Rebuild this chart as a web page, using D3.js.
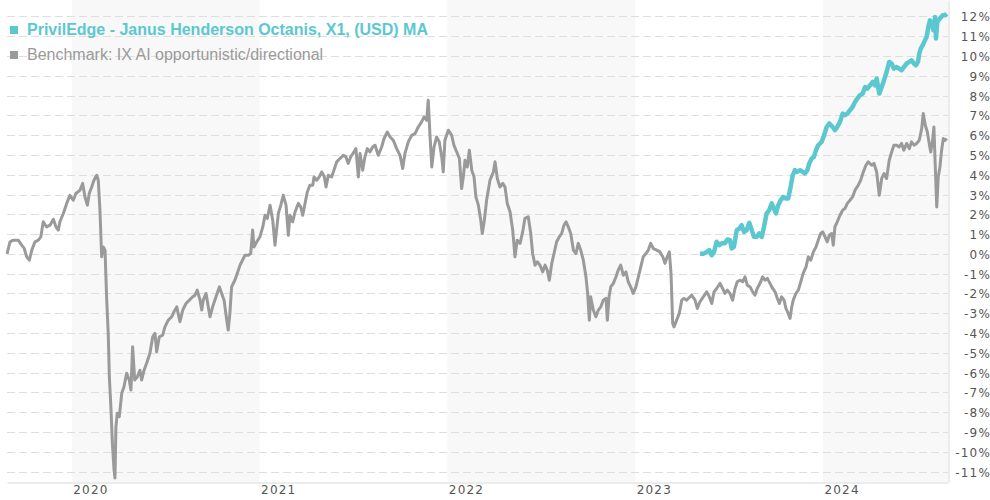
<!DOCTYPE html>
<html>
<head>
<meta charset="utf-8">
<script src="https://cdn.jsdelivr.net/npm/d3@7"></script>
<style>
  html, body { margin: 0; padding: 0; background: #fff; }
  svg { display: block; }
</style>
</head>
<body>
<svg id="chart" width="990" height="500"></svg>
<script>
// ---------- DATA (x = decimal year, y = cumulative return in %) ----------
const seriesNames = [
  "PrivilEdge - Janus Henderson Octanis, X1, (USD) MA",
  "Benchmark: IX AI opportunistic/directional"
];
const yearTicks = [2020, 2021, 2022, 2023, 2024];
const shadedYears = [2020, 2022, 2024];
const yTicks = [12,11,10,9,8,7,6,5,4,3,2,1,0,-1,-2,-3,-4,-5,-6,-7,-8,-9,-10,-11];

const benchmark = [
  [2019.655,0.00],[2019.671,0.61],[2019.689,0.69],[2019.715,0.69],[2019.733,0.44],[2019.746,0.29],
  [2019.760,-0.15],[2019.774,-0.32],[2019.787,0.19],[2019.804,0.61],[2019.822,0.69],[2019.835,0.86],
  [2019.848,1.62],[2019.866,1.36],[2019.884,1.45],[2019.902,1.75],[2019.916,1.36],[2019.928,1.20],
  [2019.937,1.62],[2019.955,2.04],[2019.973,2.55],[2019.990,2.96],[2020.008,2.71],[2020.022,3.05],
  [2020.044,3.22],[2020.058,3.56],[2020.070,2.88],[2020.083,2.46],[2020.093,3.05],[2020.106,3.38],
  [2020.118,3.72],[2020.133,3.97],[2020.141,3.72],[2020.150,2.21],[2020.159,-0.15],[2020.168,0.35],
  [2020.177,0.19],[2020.186,-2.34],[2020.194,-4.00],[2020.200,-6.21],[2020.209,-7.89],[2020.216,-9.56],
  [2020.225,-10.92],[2020.230,-11.33],[2020.235,-8.74],[2020.242,-8.06],[2020.253,-8.23],[2020.266,-7.05],
  [2020.278,-6.72],[2020.292,-6.03],[2020.306,-6.38],[2020.315,-6.88],[2020.324,-4.70],[2020.335,-6.38],
  [2020.349,-6.21],[2020.363,-5.88],[2020.372,-6.38],[2020.385,-5.88],[2020.399,-5.52],[2020.416,-5.03],
  [2020.431,-4.19],[2020.443,-4.02],[2020.452,-4.95],[2020.466,-4.19],[2020.484,-4.11],[2020.496,-3.69],
  [2020.514,-3.35],[2020.532,-3.18],[2020.544,-2.93],[2020.559,-2.68],[2020.576,-3.43],[2020.591,-2.84],
  [2020.608,-2.51],[2020.626,-2.34],[2020.644,-2.17],[2020.656,-2.09],[2020.668,-1.83],[2020.683,-2.34],
  [2020.692,-2.84],[2020.700,-2.34],[2020.715,-2.00],[2020.727,-2.68],[2020.736,-3.18],[2020.750,-2.68],
  [2020.768,-2.17],[2020.786,-1.67],[2020.798,-2.00],[2020.811,-2.34],[2020.825,-3.35],[2020.833,-3.85],
  [2020.842,-3.01],[2020.851,-1.67],[2020.869,-1.32],[2020.881,-0.99],[2020.896,-0.57],[2020.905,-0.40],
  [2020.922,-0.07],[2020.940,-0.07],[2020.953,0.02],[2020.963,1.20],[2020.970,0.35],[2020.985,0.61],
  [2021.002,0.86],[2021.017,1.36],[2021.029,1.95],[2021.041,1.79],[2021.056,2.46],[2021.070,1.70],
  [2021.082,0.44],[2021.100,2.04],[2021.113,2.46],[2021.126,2.96],[2021.141,2.46],[2021.153,0.94],
  [2021.162,1.95],[2021.176,1.62],[2021.189,2.12],[2021.206,2.55],[2021.219,2.37],[2021.230,1.95],
  [2021.242,2.55],[2021.254,3.13],[2021.268,3.47],[2021.283,3.47],[2021.290,3.89],[2021.304,3.72],
  [2021.318,3.89],[2021.331,4.14],[2021.345,3.89],[2021.354,3.38],[2021.366,3.97],[2021.384,3.89],
  [2021.396,4.23],[2021.411,4.65],[2021.428,4.82],[2021.446,4.98],[2021.460,4.90],[2021.472,4.57],
  [2021.485,4.90],[2021.503,5.15],[2021.513,5.32],[2021.526,3.89],[2021.535,5.07],[2021.549,4.23],
  [2021.561,4.90],[2021.574,5.32],[2021.588,5.15],[2021.602,5.40],[2021.615,5.49],[2021.632,4.98],
  [2021.650,5.40],[2021.663,5.83],[2021.680,6.16],[2021.695,5.91],[2021.712,5.74],[2021.730,5.32],
  [2021.748,4.98],[2021.762,4.31],[2021.774,5.07],[2021.792,5.66],[2021.810,5.99],[2021.828,6.08],
  [2021.845,6.41],[2021.863,6.67],[2021.876,6.92],[2021.890,6.75],[2021.898,7.76],[2021.908,5.91],
  [2021.917,4.39],[2021.929,5.40],[2021.943,5.91],[2021.957,5.66],[2021.970,4.90],[2021.978,4.14],
  [2021.987,5.74],[2022.005,6.25],[2022.023,5.99],[2022.035,5.49],[2022.050,5.15],[2022.064,4.82],
  [2022.076,3.30],[2022.085,3.89],[2022.094,4.73],[2022.106,4.39],[2022.117,5.24],[2022.130,4.23],
  [2022.142,3.89],[2022.152,2.88],[2022.165,2.46],[2022.178,1.70],[2022.186,1.03],[2022.197,1.70],
  [2022.209,2.71],[2022.227,3.72],[2022.245,4.14],[2022.254,4.65],[2022.266,3.81],[2022.280,3.38],
  [2022.295,3.56],[2022.307,3.38],[2022.319,2.55],[2022.334,2.12],[2022.348,1.20],[2022.360,-0.15],
  [2022.372,0.69],[2022.387,0.53],[2022.401,1.11],[2022.413,1.79],[2022.431,1.87],[2022.444,1.03],
  [2022.454,0.02],[2022.467,-0.57],[2022.479,-0.40],[2022.493,-0.57],[2022.508,-0.91],[2022.520,-0.57],
  [2022.532,-0.82],[2022.543,-1.33],[2022.556,-0.48],[2022.568,0.02],[2022.582,0.61],[2022.596,0.86],
  [2022.609,1.03],[2022.621,1.45],[2022.632,1.62],[2022.644,1.36],[2022.657,1.03],[2022.671,0.19],
  [2022.685,0.02],[2022.697,0.53],[2022.710,0.19],[2022.724,-0.32],[2022.738,-1.16],[2022.747,-2.00],
  [2022.756,-3.35],[2022.763,-2.17],[2022.777,-2.84],[2022.791,-3.18],[2022.804,-2.84],[2022.817,-2.68],
  [2022.830,-2.34],[2022.845,-2.25],[2022.852,-3.35],[2022.861,-2.17],[2022.870,-1.67],[2022.884,-1.49],
  [2022.898,-1.16],[2022.910,-0.82],[2022.923,-0.57],[2022.937,-1.08],[2022.951,-0.91],[2022.963,-1.41],
  [2022.976,-1.67],[2022.990,-2.00],[2023.004,-1.67],[2023.017,-1.16],[2023.030,-0.66],[2023.043,-0.15],
  [2023.058,0.02],[2023.070,0.19],[2023.083,0.53],[2023.097,0.27],[2023.115,0.19],[2023.132,0.10],
  [2023.147,-0.15],[2023.159,-0.48],[2023.171,-0.15],[2023.182,0.10],[2023.191,-0.99],[2023.200,-3.52],
  [2023.207,-3.69],[2023.221,-3.35],[2023.235,-3.01],[2023.248,-2.34],[2023.260,-2.25],[2023.274,-2.34],
  [2023.292,-2.17],[2023.301,-2.09],[2023.319,-2.34],[2023.331,-2.76],[2023.345,-2.42],[2023.363,-2.17],
  [2023.381,-1.92],[2023.395,-2.17],[2023.408,-2.51],[2023.420,-1.92],[2023.434,-1.75],[2023.452,-1.49],
  [2023.466,-1.75],[2023.478,-2.00],[2023.491,-1.83],[2023.505,-2.00],[2023.519,-2.34],[2023.532,-1.75],
  [2023.544,-1.41],[2023.558,-1.33],[2023.573,-1.41],[2023.585,-1.16],[2023.597,-1.58],[2023.612,-1.67],
  [2023.626,-1.92],[2023.638,-2.09],[2023.650,-1.75],[2023.665,-1.49],[2023.679,-1.16],[2023.691,-1.33],
  [2023.704,-1.24],[2023.718,-1.49],[2023.732,-1.75],[2023.745,-1.92],[2023.757,-2.25],[2023.768,-2.51],
  [2023.780,-2.17],[2023.793,-2.34],[2023.803,-2.76],[2023.815,-3.01],[2023.825,-3.26],[2023.834,-2.68],
  [2023.842,-2.34],[2023.856,-2.00],[2023.869,-1.83],[2023.882,-1.41],[2023.895,-0.99],[2023.910,-0.66],
  [2023.922,-0.15],[2023.935,-0.32],[2023.949,0.10],[2023.963,0.35],[2023.975,0.69],[2023.988,1.03],
  [2023.999,1.11],[2024.011,0.86],[2024.023,0.61],[2024.034,0.94],[2024.047,1.03],[2024.055,0.44],
  [2024.064,1.36],[2024.076,1.62],[2024.091,1.95],[2024.105,2.21],[2024.117,2.29],[2024.130,2.55],
  [2024.144,2.71],[2024.158,2.88],[2024.171,3.22],[2024.188,3.47],[2024.201,3.72],[2024.215,4.14],
  [2024.229,4.48],[2024.241,4.65],[2024.260,4.48],[2024.272,4.57],[2024.286,4.14],[2024.300,2.96],
  [2024.313,3.81],[2024.325,4.06],[2024.339,3.81],[2024.353,4.73],[2024.366,5.15],[2024.378,5.49],
  [2024.393,5.49],[2024.406,5.40],[2024.419,5.58],[2024.431,5.24],[2024.446,5.58],[2024.460,5.32],
  [2024.472,5.66],[2024.485,5.49],[2024.499,5.58],[2024.513,5.74],[2024.526,6.33],[2024.534,7.09],
  [2024.545,6.50],[2024.556,6.16],[2024.566,5.58],[2024.574,5.15],[2024.584,5.74],[2024.591,6.41],
  [2024.597,4.73],[2024.606,2.37],[2024.614,3.89],[2024.623,4.39],[2024.632,5.24],[2024.641,5.83],
  [2024.651,5.74],[2024.659,5.83]
];

const fund = [
  [2023.345,0.00],[2023.363,0.00],[2023.381,0.10],[2023.395,0.19],[2023.408,-0.07],[2023.420,0.10],
  [2023.434,0.61],[2023.448,0.44],[2023.461,0.53],[2023.478,0.53],[2023.491,0.73],[2023.505,0.69],
  [2023.514,0.27],[2023.526,0.35],[2023.541,1.20],[2023.555,1.28],[2023.567,1.45],[2023.580,1.11],
  [2023.594,1.20],[2023.608,1.57],[2023.621,1.20],[2023.633,0.86],[2023.647,0.86],[2023.661,1.03],
  [2023.674,0.86],[2023.686,1.36],[2023.700,2.04],[2023.714,2.21],[2023.727,2.55],[2023.739,2.29],
  [2023.750,2.04],[2023.762,2.46],[2023.775,2.71],[2023.789,2.88],[2023.803,2.80],[2023.815,2.80],
  [2023.828,3.38],[2023.839,3.97],[2023.851,4.23],[2023.863,4.14],[2023.878,4.23],[2023.892,4.14],
  [2023.904,4.06],[2023.917,4.23],[2023.927,4.57],[2023.940,4.82],[2023.952,4.90],[2023.963,5.24],
  [2023.975,5.49],[2023.993,5.66],[2024.006,5.99],[2024.020,6.41],[2024.034,6.59],[2024.052,6.41],
  [2024.064,6.25],[2024.076,6.41],[2024.091,6.67],[2024.105,7.09],[2024.117,7.01],[2024.130,7.09],
  [2024.144,7.26],[2024.158,7.42],[2024.171,7.68],[2024.183,7.85],[2024.197,8.02],[2024.212,8.10],
  [2024.224,8.43],[2024.236,8.35],[2024.251,8.52],[2024.265,8.69],[2024.277,8.52],[2024.286,8.86],
  [2024.300,8.10],[2024.313,8.43],[2024.325,8.77],[2024.339,9.19],[2024.353,9.70],[2024.366,9.62],
  [2024.378,9.36],[2024.393,9.44],[2024.406,9.36],[2024.419,9.28],[2024.431,9.44],[2024.446,9.62],
  [2024.460,9.70],[2024.472,9.78],[2024.485,9.62],[2024.495,9.53],[2024.506,9.70],[2024.513,10.12],
  [2024.521,10.37],[2024.531,10.54],[2024.543,10.79],[2024.552,10.96],[2024.561,11.46],[2024.570,11.80],
  [2024.579,11.64],[2024.588,11.30],[2024.597,11.97],[2024.602,10.88],[2024.609,11.72],[2024.623,11.89],
  [2024.638,12.06],[2024.650,12.06],[2024.659,12.14]
];

const xDomain = [2019.655, 2024.666];
const yDomain = [-11.53, 12.83];

// ---------- DRAW ----------
const svg = d3.select("#chart");
const L = 7, R = 948, T = 0, B = 482;

const x = d3.scaleLinear().domain(xDomain).range([L, R]);
const y = d3.scaleLinear().domain(yDomain).range([B, T]);

const TEAL = "#5bc8cf", GREY = "#9a9a9a";

// alternating year shading
svg.append("g").selectAll("rect").data(shadedYears).join("rect")
  .attr("x", d => x(d))
  .attr("y", T)
  .attr("width", d => Math.min(x(d + 1), R) - x(d))
  .attr("height", B - T)
  .attr("fill", "#f8f8f8");

// dashed horizontal gridlines
svg.append("g").selectAll("line").data(yTicks).join("line")
  .attr("x1", L).attr("x2", R)
  .attr("y1", d => Math.round(y(d)) + 0.5).attr("y2", d => Math.round(y(d)) + 0.5)
  .attr("stroke", "#dedede")
  .attr("stroke-width", 1)
  .attr("stroke-dasharray", "8,4");

// bottom axis
const xAxis = svg.append("g")
  .attr("transform", `translate(0,${B + 0.5})`)
  .call(d3.axisBottom(x).tickValues(yearTicks).tickFormat(d3.format("d")).tickSize(0).tickSizeOuter(0));
xAxis.select(".domain").attr("stroke", "#d9d9d9").attr("stroke-width", 1);
xAxis.selectAll("text")
  .attr("text-anchor", "start")
  .attr("dx", 1)
  .attr("y", 11.5)
  .attr("dy", 0)
  .style("font-family", "'DejaVu Sans', sans-serif")
  .style("font-size", "12px")
  .style("letter-spacing", "1.2px")
  .attr("fill", "#555");

// right axis
const yAxis = svg.append("g")
  .attr("transform", `translate(${R + 0.5},0)`)
  .call(d3.axisRight(y).tickValues(yTicks).tickFormat(d => d + "%").tickSize(0).tickSizeOuter(0));
yAxis.select(".domain").attr("stroke", "#d9d9d9").attr("stroke-width", 1);
yAxis.selectAll("text")
  .attr("text-anchor", "end")
  .attr("x", 990.5 - R)
  .attr("dy", "0.38em")
  .style("font-family", "'DejaVu Sans', sans-serif")
  .style("font-size", "12px")
  .style("letter-spacing", "1.2px")
  .attr("fill", "#555");

// lines
const line = d3.line().x(d => x(d[0])).y(d => y(d[1])).curve(d3.curveLinear);

svg.append("path").datum(benchmark)
  .attr("d", line)
  .attr("fill", "none")
  .attr("stroke", GREY)
  .attr("stroke-width", 3)
  .attr("stroke-linejoin", "round");

svg.append("path").datum(fund)
  .attr("d", line)
  .attr("fill", "none")
  .attr("stroke", TEAL)
  .attr("stroke-width", 4.5)
  .attr("stroke-linejoin", "round");

// legend
const legend = svg.append("g");
const legendColors = [TEAL, GREY];
const legendRows = legend.selectAll("g").data(seriesNames).join("g")
  .attr("transform", (d, i) => `translate(10,${35 + i * 25})`);
legendRows.append("rect")
  .attr("x", 0).attr("y", -9).attr("width", 8).attr("height", 8)
  .attr("fill", (d, i) => legendColors[i]);
legendRows.append("text")
  .attr("x", 17).attr("y", 0)
  .text(d => d)
  .style("font-family", "'Liberation Sans', Arial, sans-serif")
  .style("font-size", "16px")
  .style("font-weight", (d, i) => i === 0 ? "bold" : "normal")
  .attr("fill", (d, i) => legendColors[i]);
</script>
</body>
</html>
